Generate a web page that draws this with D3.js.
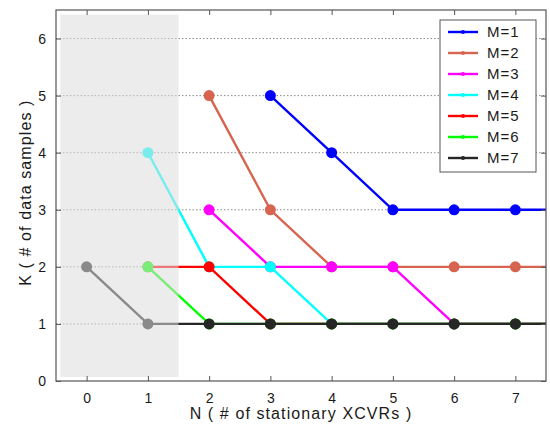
<!DOCTYPE html>
<html>
<head>
<meta charset="utf-8">
<script src="https://cdn.jsdelivr.net/npm/d3@7/dist/d3.min.js"></script>
<style>
  html, body { margin: 0; padding: 0; background: #fff; }
  svg { display: block; font-family: "Liberation Sans", Arial, Helvetica, sans-serif; }
</style>
</head>
<body>
<svg id="chart" width="550" height="431"></svg>
<script>
// Number of stationary transceivers (x axis)
const nValues = [0, 1, 2, 3, 4, 5, 6, 7, 8];

// Required number of data samples K for each M (null = not defined)
const kM1 = [null, null, null, 5, 4, 3, 3, 3, 3];
const kM2 = [null, null, 5, 3, 2, 2, 2, 2, 2];
const kM3 = [null, null, 3, 2, 2, 2, 1, 1, 1];
const kM4 = [null, 4, 2, 2, 1, 1, 1, 1, 1];
const kM5 = [null, 2, 2, 1, 1, 1, 1, 1, 1];
const kM6 = [null, 2, 1, 1, 1, 1, 1, 1, 1];
const kM7 = [2, 1, 1, 1, 1, 1, 1, 1, 1];

const seriesNames = ["M=1", "M=2", "M=3", "M=4", "M=5", "M=6", "M=7"];
const seriesColors = ["#0000ff", "#d6644f", "#ff00ff", "#00ffff", "#ff0000", "#00ff00", "#262626"];
const seriesValues = [kM1, kM2, kM3, kM4, kM5, kM6, kM7];

const xTicks = [0, 1, 2, 3, 4, 5, 6, 7];
const yTicks = [0, 1, 2, 3, 4, 5, 6];

// Shaded (infeasible) region in data units
const shadeX = [-0.43, 1.5];
const shadeY = [0.07, 6.42];

const svg = d3.select("#chart");
const margin = { left: 56, top: 10, right: 4, bottom: 50 };
const W = 550, H = 431;
const plotW = W - margin.left - margin.right;
const plotH = H - margin.top - margin.bottom;

const x = d3.scaleLinear().domain([-0.5, 7.5]).range([margin.left, margin.left + plotW]);
const y = d3.scaleLinear().domain([0, 6.5]).range([margin.top + plotH, margin.top]);

svg.append("defs").append("clipPath").attr("id", "plotClip")
  .append("rect")
  .attr("x", margin.left).attr("y", margin.top)
  .attr("width", plotW).attr("height", plotH);

// Horizontal dotted grid
svg.append("g")
  .selectAll("line")
  .data(yTicks.filter(d => d > 0))
  .join("line")
  .attr("x1", margin.left).attr("x2", margin.left + plotW)
  .attr("y1", d => y(d)).attr("y2", d => y(d))
  .attr("stroke", "#8a8a8a")
  .attr("stroke-width", 1)
  .attr("stroke-dasharray", "1.5,2");

// Series lines and markers
const plot = svg.append("g").attr("clip-path", "url(#plotClip)");
const line = d3.line()
  .defined(d => d.k !== null)
  .x(d => x(d.n))
  .y(d => y(d.k));

seriesValues.forEach((vals, i) => {
  const pts = nValues.map((n, j) => ({ n: n, k: vals[j] }));
  const g = plot.append("g");
  g.append("path")
    .datum(pts)
    .attr("fill", "none")
    .attr("stroke", seriesColors[i])
    .attr("stroke-width", 2.4)
    .attr("d", line);
  g.selectAll("circle")
    .data(pts.filter(d => d.k !== null && d.n <= 7))
    .join("circle")
    .attr("cx", d => x(d.n))
    .attr("cy", d => y(d.k))
    .attr("r", 5.5)
    .attr("fill", seriesColors[i]);
});

// Semi-transparent shaded region
svg.append("rect")
  .attr("x", x(shadeX[0]))
  .attr("y", y(shadeY[1]))
  .attr("width", x(shadeX[1]) - x(shadeX[0]))
  .attr("height", y(shadeY[0]) - y(shadeY[1]))
  .attr("fill", "#dcdcdc")
  .attr("fill-opacity", 0.55);

// Axes (box with inward ticks)
const axisColor = "#555";
const tickLen = 5;
const axisG = svg.append("g");

axisG.append("g")
  .attr("transform", `translate(0,${margin.top + plotH})`)
  .call(d3.axisBottom(x).tickValues(xTicks).tickSize(-tickLen).tickPadding(12).tickFormat(d3.format("d")));
axisG.append("g")
  .attr("transform", `translate(0,${margin.top})`)
  .call(d3.axisTop(x).tickValues(xTicks).tickSize(-tickLen).tickFormat(""));
axisG.append("g")
  .attr("transform", `translate(${margin.left},0)`)
  .call(d3.axisLeft(y).tickValues(yTicks).tickSize(-tickLen).tickPadding(10).tickFormat(d3.format("d")));
axisG.append("g")
  .attr("transform", `translate(${margin.left + plotW},0)`)
  .call(d3.axisRight(y).tickValues(yTicks).tickSize(-tickLen).tickFormat(""));

axisG.selectAll(".domain").remove();
axisG.selectAll(".tick line").attr("stroke", axisColor);
axisG.selectAll(".tick text")
  .attr("fill", "#1a1a1a")
  .attr("font-size", 14)
  .attr("font-family", "Liberation Sans, Arial, sans-serif");

svg.append("rect")
  .attr("x", margin.left).attr("y", margin.top)
  .attr("width", plotW).attr("height", plotH)
  .attr("fill", "none")
  .attr("stroke", axisColor)
  .attr("stroke-width", 1.2);

// Axis titles
svg.append("text")
  .attr("x", x(3.5))
  .attr("y", 419)
  .attr("text-anchor", "middle")
  .attr("font-size", 16)
  .attr("letter-spacing", 1.1)
  .attr("fill", "#1a1a1a")
  .text("N ( # of stationary XCVRs )");

svg.append("text")
  .attr("transform", `translate(31,${y(3.3)}) rotate(-90)`)
  .attr("text-anchor", "middle")
  .attr("font-size", 16)
  .attr("letter-spacing", 1.1)
  .attr("fill", "#1a1a1a")
  .text("K ( # of data samples )");

// Legend
const legend = svg.append("g");
const lgX = 440, lgY = 20, lgW = 96, lgH = 152, rowH = 21;
legend.append("rect")
  .attr("x", lgX).attr("y", lgY)
  .attr("width", lgW).attr("height", lgH)
  .attr("fill", "#fff")
  .attr("stroke", axisColor)
  .attr("stroke-width", 1);

seriesNames.forEach((name, i) => {
  const cy = lgY + 12 + i * rowH;
  legend.append("line")
    .attr("x1", lgX + 8).attr("x2", lgX + 38)
    .attr("y1", cy).attr("y2", cy)
    .attr("stroke", seriesColors[i])
    .attr("stroke-width", 2.4);
  legend.append("circle")
    .attr("cx", lgX + 23).attr("cy", cy).attr("r", 2)
    .attr("fill", seriesColors[i]);
  legend.append("text")
    .attr("x", lgX + 47).attr("y", cy)
    .attr("dy", "0.36em")
    .attr("font-size", 15)
    .attr("letter-spacing", 1)
    .attr("fill", "#1a1a1a")
    .text(name);
});
</script>
</body>
</html>
